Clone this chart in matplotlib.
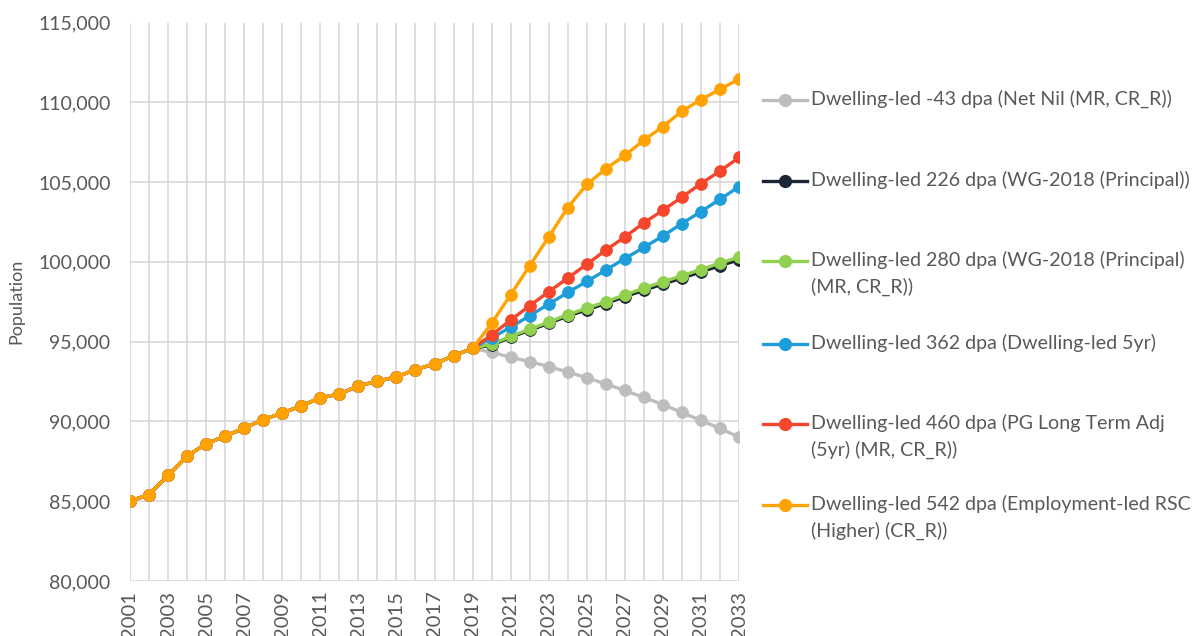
import matplotlib
matplotlib.use('Agg')
import matplotlib.pyplot as plt
from matplotlib.lines import Line2D
from matplotlib.ticker import FuncFormatter

plt.rcParams['font.family'] = ['Lato', 'DejaVu Sans']

years = list(range(2001, 2034))
hist = [85000, 85420, 86620, 87830, 88600, 89080, 89580, 90120, 90520,
        90980, 91480, 91710, 92230, 92520, 92790, 93250, 93600, 94120]

# projections 2019-2033
gray = [94580, 94330, 94020, 93750, 93440, 93100, 92730, 92350, 91940,
        91500, 91060, 90560, 90060, 89560, 89020]
black = [94580, 94780, 95280, 95710, 96150, 96600, 97000, 97390, 97820,
         98220, 98610, 98980, 99370, 99760, 100130]
green = [94580, 94850, 95330, 95780, 96230, 96690, 97100, 97500, 97940,
         98350, 98750, 99130, 99520, 99920, 100290]
blue = [94580, 95230, 95900, 96625, 97350, 98080, 98770, 99480, 100210,
        100900, 101625, 102400, 103150, 103920, 104710]
red = [94580, 95420, 96350, 97250, 98125, 98980, 99850, 100730, 101560,
       102440, 103230, 104060, 104900, 105690, 106540]
orange = [94580, 96150, 97940, 99750, 101560, 103400, 104850, 105830, 106670,
          107625, 108480, 109440, 110170, 110810, 111460]

labels = ['Dwelling-led -43 dpa (Net Nil (MR, CR_R))',
          'Dwelling-led 226 dpa (WG-2018 (Principal))',
          'Dwelling-led 280 dpa (WG-2018 (Principal)\n(MR, CR_R))',
          'Dwelling-led 362 dpa (Dwelling-led 5yr)',
          'Dwelling-led 460 dpa (PG Long Term Adj\n(5yr) (MR, CR_R))',
          'Dwelling-led 542 dpa (Employment-led RSC\n(Higher) (CR_R))']
series = [gray, black, green, blue, red, orange]
colors = ['#BDBDBD', '#1C2536', '#92D050', '#1E9DDA', '#F5452B', '#FFA305']

W, H = 1197, 636
fig = plt.figure(figsize=(W / 100, H / 100), dpi=100)
ax = fig.add_axes([130 / W, 1 - 581 / H, (739 - 130) / W, (581 - 22.5) / H])

for vals, c in zip(series, colors):
    ax.plot(years, hist + vals, color=c, lw=2.4, marker='o', ms=8.5,
            mec=c, mew=0.6, zorder=3)

ax.set_xlim(2001, 2033)
ax.set_ylim(80000, 115000)
ax.set_xticks(years)
ax.set_xticklabels([str(y) if (y - 2001) % 2 == 0 else '' for y in years],
                   rotation=90, va='top')
ax.set_yticks(range(80000, 115001, 5000))
ax.yaxis.set_major_formatter(FuncFormatter(lambda v, p: f'{int(v):,}'))
ax.grid(True, color='#D4D4D4', lw=1.1, zorder=0)
for s in ax.spines.values():
    s.set_visible(False)
ax.tick_params(length=0, colors='#595959')
ax.tick_params(axis='y', labelsize=14, pad=14)
ax.tick_params(axis='x', labelsize=14.5, pad=7)
ax.set_ylabel('Population', fontsize=13, color='#595959', labelpad=10)

# legend drawn by hand to match the uneven spacing
leg_y = [100, 181, 261, 344, 424, 505]
for lab, c, y in zip(labels, colors, leg_y):
    fy = 1 - y / H
    fig.add_artist(Line2D([763 / W, 807 / W], [fy, fy], color=c, lw=2.4,
                          transform=fig.transFigure))
    fig.add_artist(Line2D([785 / W], [fy], color=c, marker='o', ms=8.5,
                          mec=c, transform=fig.transFigure))
    fig.text(811 / W, 1 - (y - 10) / H, lab, fontsize=14.1, color='#595959',
             va='top', ha='left', linespacing=1.55)

fig.savefig('out.png', dpi=100)
